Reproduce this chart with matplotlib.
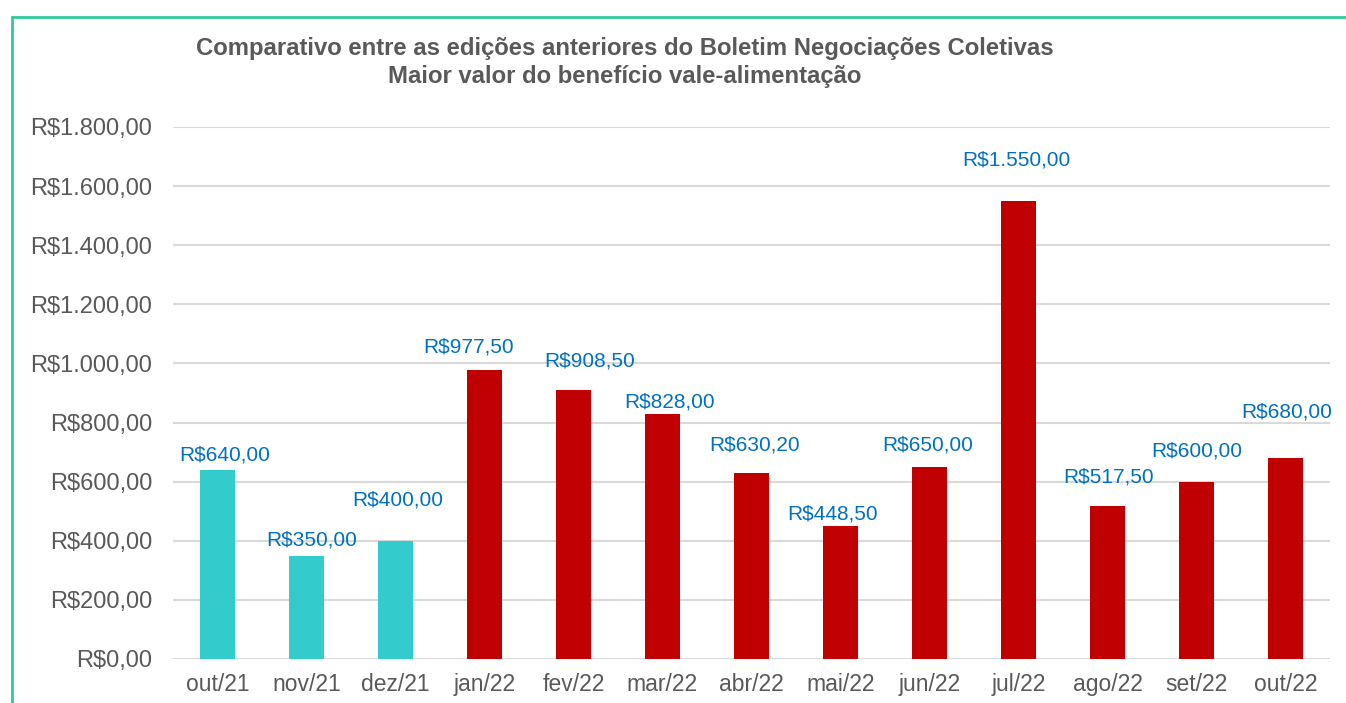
import matplotlib.pyplot as plt
from matplotlib.patches import Rectangle
from matplotlib.ticker import FuncFormatter

# dados
meses = ["out/21", "nov/21", "dez/21", "jan/22", "fev/22", "mar/22", "abr/22",
         "mai/22", "jun/22", "jul/22", "ago/22", "set/22", "out/22"]
valores = [640.00, 350.00, 400.00, 977.50, 908.50, 828.00, 630.20,
           448.50, 650.00, 1550.00, 517.50, 600.00, 680.00]
anteriores = 3  # primeiras edições em outra cor

# deslocamento dos rótulos (pixels, relativo ao topo da barra)
label_dx = [7, 5, 2, -16, 16, 7, 3, -8, -2, -2, 1, 0, 1]
label_dy = [15, 16, 41, 23, 29, 12, 28, 12, 22, 41, 29, 31, 46]


def brl(v, pos=None):
    s = f"{v:,.2f}"
    s = s.replace(",", "X").replace(".", ",").replace("X", ".")
    return "R$" + s


plt.rcParams['font.family'] = ['Liberation Sans', 'DejaVu Sans']

fig = plt.figure(figsize=(13.46, 7.03), dpi=100)
ax = fig.add_axes([173 / 1346, 1 - 659 / 703, (1330 - 173) / 1346, (659 - 127) / 703])

cores = ["#33CCCC"] * anteriores + ["#C00000"] * (len(meses) - anteriores)
x = range(len(meses))
ax.bar(x, valores, width=0.4, color=cores, zorder=3)

for i, v in enumerate(valores):
    ax.annotate(brl(v), (i, v), xytext=(label_dx[i], label_dy[i]),
                textcoords='offset pixels', ha='center', va='center',
                fontsize=15, color="#0070C0", zorder=4)

ax.set_xlim(-0.5, len(meses) - 0.5)
ax.set_ylim(0, 1800)
ax.set_yticks(range(0, 1801, 200))
ax.yaxis.set_major_formatter(FuncFormatter(brl))
ax.set_xticks(list(x))
ax.set_xticklabels(meses)
ax.tick_params(axis='y', length=0, pad=15, labelsize=17, labelcolor="#595959")
ax.tick_params(axis='x', length=0, pad=10, labelsize=16.5, labelcolor="#595959")
ax.grid(axis='y', color="#D9D9D9", linewidth=1.5, zorder=0)
for s in ax.spines.values():
    s.set_visible(False)

fig.text(625 / 1346, 1 - 48 / 703, "Comparativo entre as edições anteriores do Boletim Negociações Coletivas",
         ha='center', va='center', fontsize=17.2, fontweight='bold', color="#595959")
fig.text(625 / 1346, 1 - 77 / 703, "Maior valor do benefício vale-alimentação",
         ha='center', va='center', fontsize=17.2, fontweight='bold', color="#595959")

# moldura do gráfico
fig.patches.append(Rectangle((12 / 1346, -0.5), 2, 0.5 + (1 - 17 / 703),
                             transform=fig.transFigure, fill=False,
                             edgecolor="#2DCB9A", linewidth=2))

fig.savefig("out.png", dpi=100)
